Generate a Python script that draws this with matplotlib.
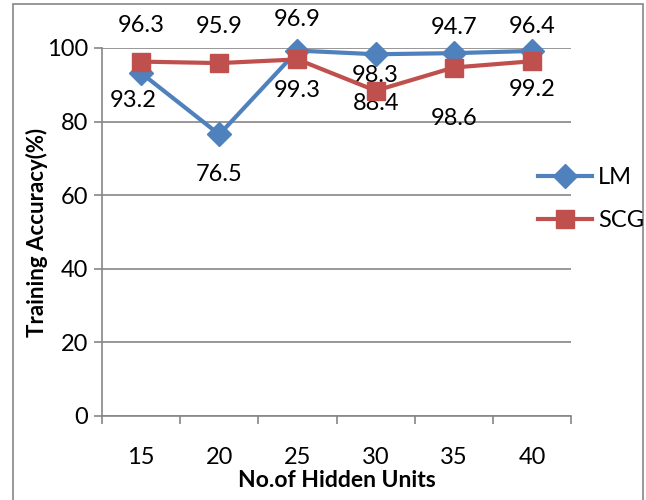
import matplotlib.pyplot as plt
from matplotlib.patches import Rectangle

plt.rcParams['font.family'] = ['Lato', 'DejaVu Sans']

# data
units = ['15', '20', '25', '30', '35', '40']
lm = [93.2, 76.5, 99.3, 98.3, 98.6, 99.2]
scg = [96.3, 95.9, 96.9, 88.4, 94.7, 96.4]

# label offsets in points (manually placed in the original)
lm_off = [(-6, -20), (0, -29), (0, -29), (0, -15), (0, -47), (0, -28)]
scg_off = [(0, 26), (0, 26), (0, 29), (0, -9), (0, 29), (0, 25)]

blue = '#4F81BD'
red = '#C0504D'
grey = '#868686'
fs = 17

fig = plt.figure(figsize=(6.46, 5.0), dpi=100)
ax = fig.add_axes([0.158, 0.168, 0.726, 0.736])

x = list(range(len(units)))
ax.plot(x, lm, color=blue, lw=3, marker='D', ms=12, label='LM', zorder=3, clip_on=False)
ax.plot(x, scg, color=red, lw=3, marker='s', ms=13, label='SCG', zorder=4, clip_on=False)

for i in x:
    ax.annotate(f'{lm[i]}', (i, lm[i]), xytext=lm_off[i], textcoords='offset points',
                ha='center', va='center', fontsize=fs, annotation_clip=False)
    ax.annotate(f'{scg[i]}', (i, scg[i]), xytext=scg_off[i], textcoords='offset points',
                ha='center', va='center', fontsize=fs, annotation_clip=False)

ax.set_xlim(-0.5, len(units) - 0.5)
ax.set_ylim(0, 100)
ax.set_yticks(range(0, 101, 20))
ax.set_xticks(x)
ax.set_xticklabels(units)
ax.set_xticks([i - 0.5 for i in range(len(units) + 1)], minor=True)
ax.tick_params(axis='x', which='major', length=0, pad=22, labelsize=fs)
ax.tick_params(axis='x', which='minor', length=6, width=1.2, color=grey)
ax.tick_params(axis='y', length=6, width=1.2, color=grey, pad=4, labelsize=fs)

ax.grid(axis='y', color=grey, lw=1.2)
ax.set_axisbelow(True)
for s in ['top', 'right']:
    ax.spines[s].set_visible(False)
for s in ['left', 'bottom']:
    ax.spines[s].set_color(grey)
    ax.spines[s].set_linewidth(1.2)

ax.set_xlabel('No.of Hidden Units', fontsize=16.5, fontweight='bold', labelpad=2)
ax.set_ylabel('Training Accuracy(%)', fontsize=16, fontweight='bold', labelpad=-1)

leg = fig.legend(loc='center left', bbox_to_anchor=(0.80, 0.602), frameon=False,
                 fontsize=fs, handlelength=2.3, handletextpad=0.25, labelspacing=0.95)

fig.patches.append(Rectangle((13 / 646, -0.05), 630 / 646, 1.042, transform=fig.transFigure,
                             fill=False, edgecolor=grey, lw=1.2))

fig.savefig('out.png', dpi=100)
